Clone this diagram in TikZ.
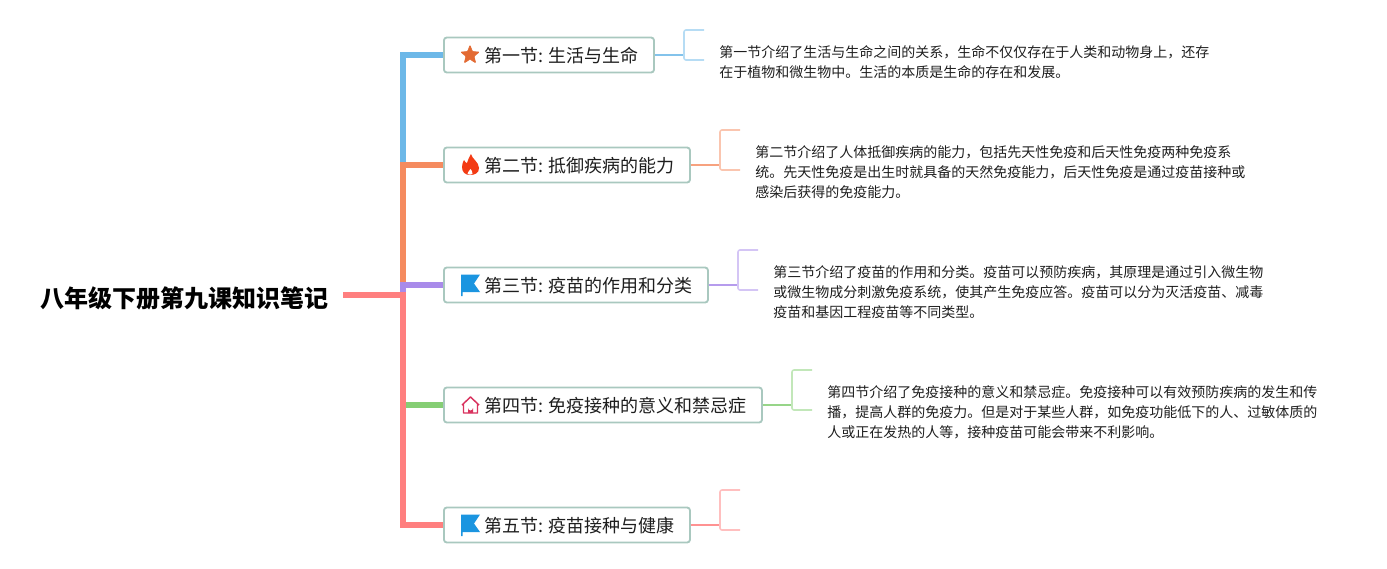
\documentclass[tikz,border=0pt]{standalone}
\usepackage{fontspec}
\setmainfont{Noto Sans CJK SC}
\usetikzlibrary{shapes.geometric}
\newcommand{\rootlabel}[1]{\raisebox{0pt}[18.2pt][0pt]{#1}}
\newcommand{\seclabel}[2]{\raisebox{0pt}[11.8pt][0pt]{#1:\kern-3pt{} #2}}
\definecolor{boxline}{HTML}{A9C8BF}
\definecolor{inkdark}{HTML}{1E1E1E}
\definecolor{linkblue}{HTML}{6DB8E8}
\definecolor{linkorange}{HTML}{F58B5F}
\definecolor{linkpurple}{HTML}{A98BEA}
\definecolor{linkgreen}{HTML}{85CE74}
\definecolor{linkred}{HTML}{FF7F7F}
\definecolor{iconstar}{HTML}{E36A33}
\definecolor{iconflame}{HTML}{F33B14}
\definecolor{iconflag}{HTML}{1B95E0}
\definecolor{iconhouse}{HTML}{D9325E}
\tikzset{
  root title/.style={
    font=\fontsize{18}{22}\selectfont\bfseries, text=black,
    inner xsep=10.6pt, inner ysep=0pt, anchor=east
  },
  section box/.style={
    draw=boxline, line width=1.4pt, rounded corners=2.2pt, fill=white,
    anchor=west, minimum height=26.3pt, inner xsep=11.5pt, inner ysep=0pt,
    align=right, text=inkdark,
    font=\fontsize{13.5}{16}\selectfont
  },
  note text/.style={
    anchor=west, align=left, inner sep=0pt, text=inkdark,
    font=\fontsize{10.5}{15}\selectfont
  },
  trunk/.style={line width=4.2pt, miter limit=10},
  stem/.style={line width=1.2pt},
  bracket/.style={line width=1.2pt, rounded corners=1.5pt},
  star icon/.pic={
    \node[star, star points=5, star point ratio=2.3, fill=iconstar,
      draw=iconstar, line width=0.5pt, rounded corners=0.6pt,
      minimum size=14.5pt, inner sep=0pt] (-shape) at (0,0) {};
  },
  flame icon/.pic={
    \fill[iconflame] (1,-11) .. controls (2,-6) and (9,-3) .. (9,3)
      .. controls (9,8) and (5,10) .. (0,10) .. controls (-5,10) and (-8,7) .. (-8,2)
      .. controls (-8,-1) and (-7,-3) .. (-6,-5) .. controls (-5,-3) and (-4,-2) .. (-3,-2)
      .. controls (-2,-5) and (-1,-8) .. (1,-11) -- cycle;
    \fill[white] (0.5,4) .. controls (1,5.5) and (3,6.5) .. (2.5,8.5) .. controls (2,10) and (-2,10) .. (-2.5,8.5)
      .. controls (-3,7) and (0,6) .. (0.5,4) -- cycle;
  },
  flag icon/.pic={
    \fill[iconflag] (-9,-10.5) -- (10,-10.5) -- (4,-1.5) -- (10,7)
      -- (-7.5,7) -- (-7.5,11) -- (-9,11) -- cycle;
  },
  house icon/.pic={
    \draw[iconhouse, line width=1.1pt, line join=round]
      (-8.5,0) -- (0,-8) -- (8.5,0) (-7,-1) -- (-7,8) -- (7,8) -- (7,-1);
    \fill[iconhouse] (-2.5,8) -- (-2.5,3) arc[start angle=180, end angle=0, radius=2.5] -- (2.5,8) -- cycle;
  },
}
\begin{document}
\begin{tikzpicture}[x=0.75pt, y=-0.75pt]
  \useasboundingbox (0,0) rectangle (1387,568);

  % Root and sections
  \node[root title] (root) at (343,295) {\rootlabel{八年级下册第九课知识笔记}};
  \node[section box, text width=134.55pt] (sec1) at (443,55) {\seclabel{第一节}{生活与生命}};
  \node[section box, text width=161.55pt] (sec2) at (443,165) {\seclabel{第二节}{抵御疾病的能力}};
  \node[section box, text width=175.05pt] (sec3) at (443,285) {\seclabel{第三节}{疫苗的作用和分类}};
  \node[section box, text width=215.55pt] (sec4) at (443,405) {\seclabel{第四节}{免疫接种的意义和禁忌症}};
  \node[section box, text width=161.55pt] (sec5) at (443,525) {\seclabel{第五节}{疫苗接种与健康}};

  % Trunk
  \coordinate (joint2) at (403,165);
  \coordinate (joint3) at (403,285);
  \coordinate (joint4) at (403,295);
  \coordinate (bend1) at (403,55);
  \coordinate (bend5) at (403,525);
  \coordinate (rootend) at (406,295);
  \coordinate (greenstart) at (406,405);
  \draw[trunk, linkblue] (joint2) -- (bend1) -- (sec1.west);
  \draw[trunk, linkorange] (joint3) -- (joint2) -- (sec2.west);
  \draw[trunk, linkpurple] (joint4) -- (joint3) -- (sec3.west);
  \draw[trunk, linkgreen] (greenstart) -- (sec4.west);
  \draw[trunk, linkred] (root.east) -- (rootend);
  \draw[trunk, linkred] (joint4) -- (bend5) -- (sec5.west);

  % Section 1
  \pic at (470,55) {star icon};
  \coordinate (fork1) at (684,55);
  \coordinate (tip1a) at (704,30);
  \coordinate (tip1b) at (704,60);
  \draw[stem, linkblue!85] (sec1.east) -- (fork1);
  \draw[bracket, linkblue!50] (tip1a) -| (fork1) |- (tip1b);
  \node[note text] (note1) at (719,62) {第一节介绍了生活与生命之间的关系，生命不仅仅存在于人类和动物身上，还存\\在于植物和微生物中。生活的本质是生命的存在和发展。};

  % Section 2
  \pic at (470,165) {flame icon};
  \coordinate (fork2) at (720,165);
  \coordinate (tip2a) at (740,130);
  \coordinate (tip2b) at (740,170);
  \draw[stem, linkorange!80] (sec2.east) -- (fork2);
  \draw[bracket, linkorange!50] (tip2a) -| (fork2) |- (tip2b);
  \node[note text] (note2) at (755,172) {第二节介绍了人体抵御疾病的能力，包括先天性免疫和后天性免疫两种免疫系\\统。先天性免疫是出生时就具备的天然免疫能力，后天性免疫是通过疫苗接种或\\感染后获得的免疫能力。};

  % Section 3
  \pic at (470,285) {flag icon};
  \coordinate (fork3) at (738,285);
  \coordinate (tip3a) at (758,250);
  \coordinate (tip3b) at (758,290);
  \draw[stem, linkpurple!85] (sec3.east) -- (fork3);
  \draw[bracket, linkpurple!50] (tip3a) -| (fork3) |- (tip3b);
  \node[note text] (note3) at (773,292) {第三节介绍了疫苗的作用和分类。疫苗可以预防疾病，其原理是通过引入微生物\\或微生物成分刺激免疫系统，使其产生免疫应答。疫苗可以分为灭活疫苗、减毒\\疫苗和基因工程疫苗等不同类型。};

  % Section 4
  \pic at (470.5,405) {house icon};
  \coordinate (fork4) at (792,405);
  \coordinate (tip4a) at (812,370);
  \coordinate (tip4b) at (812,410);
  \draw[stem, linkgreen!85] (sec4.east) -- (fork4);
  \draw[bracket, linkgreen!50] (tip4a) -| (fork4) |- (tip4b);
  \node[note text] (note4) at (827,412) {第四节介绍了免疫接种的意义和禁忌症。免疫接种可以有效预防疾病的发生和传\\播，提高人群的免疫力。但是对于某些人群，如免疫功能低下的人、过敏体质的\\人或正在发热的人等，接种疫苗可能会带来不利影响。};

  % Section 5
  \pic at (470,525) {flag icon};
  \coordinate (fork5) at (720,525);
  \coordinate (tip5a) at (740,490);
  \coordinate (tip5b) at (740,530);
  \draw[stem, linkred!85] (sec5.east) -- (fork5);
  \draw[bracket, linkred!50] (tip5a) -| (fork5) |- (tip5b);

\end{tikzpicture}
\end{document}
